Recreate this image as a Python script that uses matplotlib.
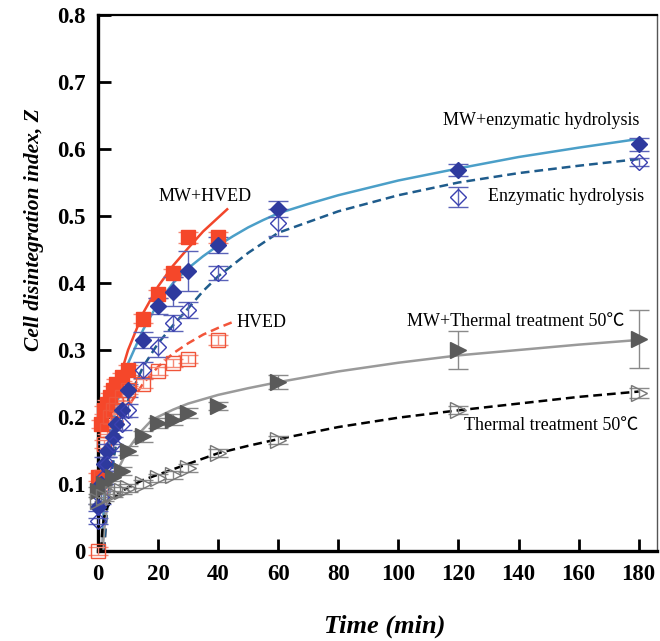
import matplotlib
matplotlib.use('Agg')
import matplotlib.pyplot as plt

# fontes: serifada + fallback para o simbolo de graus
plt.rcParams['font.family'] = ['Liberation Serif', 'Noto Sans CJK SC', 'DejaVu Sans']

# ---- pontos experimentais ----
# MW+HVED (quadrado cheio)
t_mw_hved = [0, 1, 2, 3, 4, 5, 6, 8, 10, 15, 20, 25, 30, 40]
z_mw_hved = [0.11, 0.19, 0.21, 0.22, 0.23, 0.24, 0.25, 0.26, 0.27, 0.347, 0.384, 0.415, 0.468, 0.468]
e_mw_hved = [0.006, 0.006, 0.006, 0.006, 0.006, 0.006, 0.006, 0.006, 0.008, 0.006, 0.006, 0.006, 0.008, 0.008]

# HVED (quadrado vazio)
t_hved = [0, 1, 2, 3, 4, 5, 6, 8, 10, 15, 20, 25, 30, 40]
z_hved = [0.0, 0.11, 0.16, 0.18, 0.2, 0.21, 0.22, 0.23, 0.24, 0.25, 0.268, 0.28, 0.287, 0.315]
e_hved = [0.006, 0.006, 0.006, 0.006, 0.006, 0.006, 0.006, 0.006, 0.006, 0.006, 0.006, 0.006, 0.006, 0.008]

# MW+enzymatic hydrolysis (losango cheio)
t_mw_enz = [0, 1, 2, 3, 5, 6, 8, 10, 15, 20, 25, 30, 40, 60, 120, 180]
z_mw_enz = [0.065, 0.1, 0.13, 0.15, 0.17, 0.19, 0.21, 0.24, 0.315, 0.366, 0.387, 0.418, 0.457, 0.51, 0.568, 0.607]
e_mw_enz = [0.005, 0.01, 0.01, 0.01, 0.01, 0.01, 0.01, 0.01, 0.012, 0.012, 0.022, 0.03, 0.012, 0.012, 0.009, 0.01]

# Enzymatic hydrolysis (losango vazio)
t_enz = [0, 1, 2, 3, 5, 8, 10, 15, 20, 25, 30, 40, 60, 120, 180]
z_enz = [0.045, 0.08, 0.11, 0.13, 0.16, 0.19, 0.21, 0.27, 0.305, 0.34, 0.36, 0.415, 0.49, 0.528, 0.58]
e_enz = [0.005, 0.01, 0.01, 0.01, 0.01, 0.01, 0.01, 0.012, 0.015, 0.012, 0.012, 0.01, 0.02, 0.015, 0.006]

# MW+Thermal treatment (triangulo cheio)
t_mw_term = [0, 2, 5, 8, 10, 15, 20, 25, 30, 40, 60, 120, 180]
z_mw_term = [0.09, 0.1, 0.11, 0.12, 0.15, 0.171, 0.191, 0.196, 0.206, 0.216, 0.252, 0.30, 0.316]
e_mw_term = [0.005, 0.005, 0.005, 0.006, 0.006, 0.008, 0.008, 0.008, 0.008, 0.006, 0.01, 0.029, 0.043]

# Thermal treatment (triangulo vazio)
t_term = [0, 2, 5, 8, 10, 15, 20, 25, 30, 40, 60, 120, 180]
z_term = [0.075, 0.08, 0.085, 0.09, 0.094, 0.1, 0.109, 0.114, 0.124, 0.146, 0.166, 0.21, 0.236]
e_term = [0.005, 0.005, 0.005, 0.005, 0.006, 0.006, 0.006, 0.006, 0.006, 0.006, 0.006, 0.006, 0.008]

# ---- curvas ajustadas ----
tc_mw_hved = [1.5, 2, 3, 4, 5, 7, 10, 15, 20, 25, 30, 35, 43]
zc_mw_hved = [0.0, 0.07, 0.14, 0.18, 0.21, 0.255, 0.3, 0.355, 0.395, 0.426, 0.452, 0.477, 0.51]

tc_hved = [2, 3, 4, 5, 7, 10, 15, 20, 25, 30, 35, 40, 45]
zc_hved = [0.0, 0.07, 0.11, 0.14, 0.18, 0.215, 0.25, 0.275, 0.295, 0.31, 0.323, 0.333, 0.342]

tc_mw_enz = [1.5, 2, 3, 4, 6, 8, 10, 15, 20, 25, 30, 35, 40, 45, 50, 55, 60, 70, 80, 90, 100,
             120, 140, 160, 180]
zc_mw_enz = [0.0, 0.08, 0.13, 0.165, 0.215, 0.25, 0.28, 0.33, 0.37, 0.40, 0.422, 0.44, 0.456, 0.47,
             0.483, 0.494, 0.504, 0.518, 0.531, 0.542, 0.553, 0.571, 0.588, 0.602, 0.615]

tc_enz = [2, 3, 4, 6, 8, 10, 15, 20, 25, 30, 35, 40, 50, 60, 80, 100, 120, 140, 160, 180]
zc_enz = [0.0, 0.06, 0.1, 0.16, 0.2, 0.225, 0.275, 0.31, 0.337, 0.362, 0.388, 0.41, 0.445, 0.475,
          0.507, 0.531, 0.55, 0.564, 0.575, 0.585]

tc_mw_term = [1.5, 2, 3, 4, 5, 7, 10, 14, 18, 25, 30, 40, 50, 60, 80, 100, 120, 140, 160, 180]
zc_mw_term = [0.0, 0.03, 0.065, 0.09, 0.105, 0.125, 0.152, 0.177, 0.196, 0.211, 0.22, 0.233, 0.243,
              0.252, 0.268, 0.281, 0.292, 0.3, 0.308, 0.315]

tc_term = [1, 1.5, 2, 3, 5, 7, 10, 15, 20, 30, 40, 50, 60, 80, 100, 120, 140, 160, 180]
zc_term = [0.0, 0.035, 0.05, 0.065, 0.078, 0.086, 0.095, 0.106, 0.114, 0.13, 0.146, 0.157, 0.167,
           0.185, 0.199, 0.21, 0.22, 0.23, 0.238]

# ---- figura ----
fig = plt.figure(figsize=(6.6, 6.41), dpi=100)
ax = fig.add_axes([0.1485, 0.1404, 0.8465, 0.8362])

# linhas das curvas
ax.plot(tc_mw_hved, zc_mw_hved, color='#f2462b', lw=1.8, zorder=2)
ax.plot(tc_hved, zc_hved, color='#f2553a', lw=1.8, ls=(0, (3.5, 2)), zorder=2)
ax.plot(tc_mw_enz, zc_mw_enz, color='#4b9fc8', lw=1.8, zorder=2)
ax.plot(tc_enz, zc_enz, color='#1f5c8c', lw=1.8, ls=(0, (3.5, 2)), zorder=2)
ax.plot(tc_mw_term, zc_mw_term, color='#9a9a9a', lw=1.8, zorder=2)
ax.plot(tc_term, zc_term, color='black', lw=1.8, ls=(0, (3.5, 2)), zorder=2)

# pontos com barras de erro
kw = dict(capsize=7, elinewidth=1.0, capthick=1.0, ls='none', clip_on=False, zorder=3)
ax.errorbar(t_mw_hved, z_mw_hved, yerr=e_mw_hved, fmt='s', ms=9.5, mfc='#f5472a', mec='#f5472a',
            ecolor='#f58a78', **kw)
ax.errorbar(t_hved, z_hved, yerr=e_hved, fmt='s', ms=9.5, mfc='none', mec='#f0553a', mew=1.0,
            ecolor='#f58a78', **kw)
ax.errorbar(t_mw_enz, z_mw_enz, yerr=e_mw_enz, fmt='D', ms=8.5, mfc='#2e3a9e', mec='#2e3a9e',
            ecolor='#5a62b8', **kw)
ax.errorbar(t_enz, z_enz, yerr=e_enz, fmt='D', ms=8.5, mfc='none', mec='#3a40b0', mew=1.0,
            ecolor='#5a62b8', **kw)
ax.errorbar(t_mw_term, z_mw_term, yerr=e_mw_term, fmt='>', ms=11, mfc='#5a5a5a', mec='#5a5a5a',
            ecolor='#8a8a8a', **kw)
ax.errorbar(t_term, z_term, yerr=e_term, fmt='>', ms=11, mfc='none', mec='#777777', mew=1.0,
            ecolor='#8a8a8a', **kw)

# textos das series
ax.text(20, 0.529, 'MW+HVED', fontsize=13, va='center')
ax.text(115, 0.643, 'MW+enzymatic hydrolysis', fontsize=13, va='center')
ax.text(129.7, 0.529, 'Enzymatic hydrolysis', fontsize=13, va='center')
ax.text(46, 0.341, 'HVED', fontsize=13, va='center')
ax.text(103, 0.342, 'MW+Thermal treatment 50℃', fontsize=13, va='center')
ax.text(121.7, 0.187, 'Thermal treatment 50℃', fontsize=13, va='center')

# eixos
ax.set_xlim(0, 186)
ax.set_ylim(0, 0.8)
ax.set_xticks([0, 20, 40, 60, 80, 100, 120, 140, 160, 180])
ax.set_yticks([0, 0.1, 0.2, 0.3, 0.4, 0.5, 0.6, 0.7, 0.8])
ax.set_yticklabels(['0', '0.1', '0.2', '0.3', '0.4', '0.5', '0.6', '0.7', '0.8'])
ax.tick_params(direction='in', length=9, width=2, labelsize=16.5, pad=9)
for lab in ax.get_xticklabels() + ax.get_yticklabels():
    lab.set_fontweight('bold')

ax.spines['left'].set_linewidth(2.4)
ax.spines['bottom'].set_linewidth(2.4)
ax.spines['top'].set_linewidth(1.6)
ax.spines['right'].set_linewidth(1.0)
ax.spines['right'].set_color('#555555')

ax.set_xlabel('Time (min)', fontsize=19, fontweight='bold', style='italic')
ax.xaxis.set_label_coords(0.513, -0.118)
ax.set_ylabel('Cell disintegration index, Z', fontsize=15.5, fontweight='bold', style='italic')
ax.yaxis.set_label_coords(-0.096, 0.60)

plt.savefig('out.png', dpi=100)
